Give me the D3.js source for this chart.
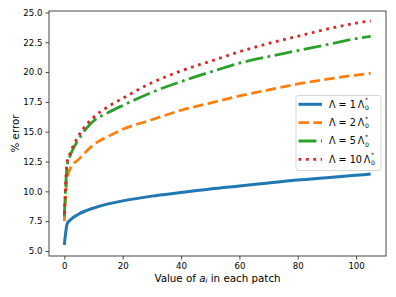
<!DOCTYPE html>
<html lang="en">
<head>
<meta charset="utf-8">
<title>% error vs a_i</title>
<script src="https://d3js.org/d3.v7.min.js"></script>
<style>
 body { margin: 0; background: #fff; }
 text { font-family: "DejaVu Sans", sans-serif; fill: #000; }
</style>
</head>
<body>
<script>
// values
var xVals = [0, 1, 2, 5, 10, 15, 20, 30, 40, 50, 60, 70, 80, 90, 100, 105];
var lam1  = [5.5, 7.3, 7.6, 8.1, 8.6, 8.95, 9.2, 9.6, 9.9, 10.2, 10.45, 10.7, 10.95, 11.15, 11.35, 11.45];
var lam2  = [7.5, 11.2, 11.9, 12.7, 13.9, 14.6, 15.2, 16.0, 16.8, 17.4, 18.0, 18.5, 19.0, 19.4, 19.75, 19.9];
var lam5  = [7.9, 12.2, 13.0, 14.4, 15.9, 16.6, 17.2, 18.3, 19.2, 20.0, 20.75, 21.3, 21.8, 22.3, 22.8, 23.0];
var lam10 = [8.1, 12.5, 13.2, 14.7, 16.2, 17.1, 17.8, 19.1, 20.1, 20.9, 21.7, 22.4, 23.0, 23.6, 24.1, 24.3];
var lamNames = ["1", "2", "5", "10"];
var xTicks = [0, 20, 40, 60, 80, 100];
var yTicks = [5.0, 7.5, 10.0, 12.5, 15.0, 17.5, 20.0, 22.5, 25.0];

var width = 396, height = 297;
var margin = {top: 11, right: 10, bottom: 41, left: 49};
var w = width - margin.left - margin.right;
var h = height - margin.top - margin.bottom;

var svg = d3.select("body").append("svg")
    .attr("width", width)
    .attr("height", height);

var g = svg.append("g")
    .attr("transform", "translate(" + margin.left + "," + margin.top + ")");

var x = d3.scaleLinear().domain([-5.25, 110.25]).range([0, w]);
var y = d3.scaleLinear().domain([4.58, 25.12]).range([h, 0]);

// series styles
var series = [
    {vals: lam1,  color: "#1f77b4", dash: null,              lw: 3},
    {vals: lam2,  color: "#ff7f0e", dash: "10.4,4.5",        lw: 2.8},
    {vals: lam5,  color: "#2ca02c", dash: "17.9,4.5,2.8,4.5", lw: 2.8},
    {vals: lam10, color: "#d62728", dash: "2.8,4.6",         lw: 2.8}
];

var line = d3.line()
    .x(function (d) { return x(d[0]); })
    .y(function (d) { return y(d[1]); })
    .curve(d3.curveMonotoneX);

series.forEach(function (s) {
    g.append("path")
     .datum(xVals.map(function (v, i) { return [v, s.vals[i]]; }))
     .attr("d", line)
     .attr("fill", "none")
     .attr("stroke", s.color)
     .attr("stroke-width", s.lw)
     .attr("stroke-dasharray", s.dash)
     .attr("stroke-linejoin", "round");
});

// axes
var xAxis = g.append("g")
    .attr("transform", "translate(0," + h + ")")
    .call(d3.axisBottom(x).tickValues(xTicks).tickSize(3.5).tickPadding(3));
var yAxis = g.append("g")
    .call(d3.axisLeft(y).tickValues(yTicks).tickFormat(d3.format(".1f")).tickSize(3.5).tickPadding(3));
[xAxis, yAxis].forEach(function (a) {
    a.select(".domain").remove();
    a.selectAll("line").attr("stroke", "#333").attr("stroke-width", 0.9);
    a.selectAll("text").attr("font-size", "8.6px").attr("font-family", "DejaVu Sans").attr("fill", "#000");
});

// frame
g.append("rect")
 .attr("width", w).attr("height", h)
 .attr("fill", "none").attr("stroke", "#333").attr("stroke-width", 0.9);

// axis labels
var xl = svg.append("text")
    .attr("x", margin.left + w / 2)
    .attr("y", 281.5)
    .attr("text-anchor", "middle")
    .attr("font-size", "10.3px");
xl.append("tspan").text("Value of ");
xl.append("tspan").attr("font-style", "italic").text("a");
xl.append("tspan").attr("font-style", "italic").attr("font-size", "7.2px").attr("dy", 1.8).text("i");
xl.append("tspan").attr("dy", -1.8).text(" in each patch");

svg.append("text")
   .attr("transform", "translate(18.5," + (margin.top + h / 2) + ") rotate(-90)")
   .attr("text-anchor", "middle")
   .attr("font-size", "10.3px")
   .text("% error");

// legend
var leg = svg.append("g");
leg.append("rect")
   .attr("x", 296).attr("y", 95.5)
   .attr("width", 85).attr("height", 75)
   .attr("rx", 2)
   .attr("fill", "#fff").attr("fill-opacity", 0.8)
   .attr("stroke", "#ccc").attr("stroke-width", 0.8);

series.forEach(function (s, i) {
    var cy = 104.3 + i * 18.35;
    leg.append("line")
       .attr("x1", 298.5).attr("x2", 322)
       .attr("y1", cy).attr("y2", cy)
       .attr("stroke", s.color)
       .attr("stroke-width", s.lw)
       .attr("stroke-dasharray", s.dash);
    var t = leg.append("text")
       .attr("x", 329).attr("y", cy + 3.4)
       .attr("font-size", "9.6px")
       .text("\u039b = " + lamNames[i] + "\u2009\u039b");
    var tw = t.node().getComputedTextLength();
    leg.append("text")
       .attr("x", 329 + tw + 0.6).attr("y", cy - 1.9)
       .attr("font-size", "6.2px")
       .text("*");
    leg.append("text")
       .attr("x", 329 + tw + 0.6).attr("y", cy + 5.7)
       .attr("font-size", "6.2px")
       .text("0");
});
</script>
</body>
</html>
